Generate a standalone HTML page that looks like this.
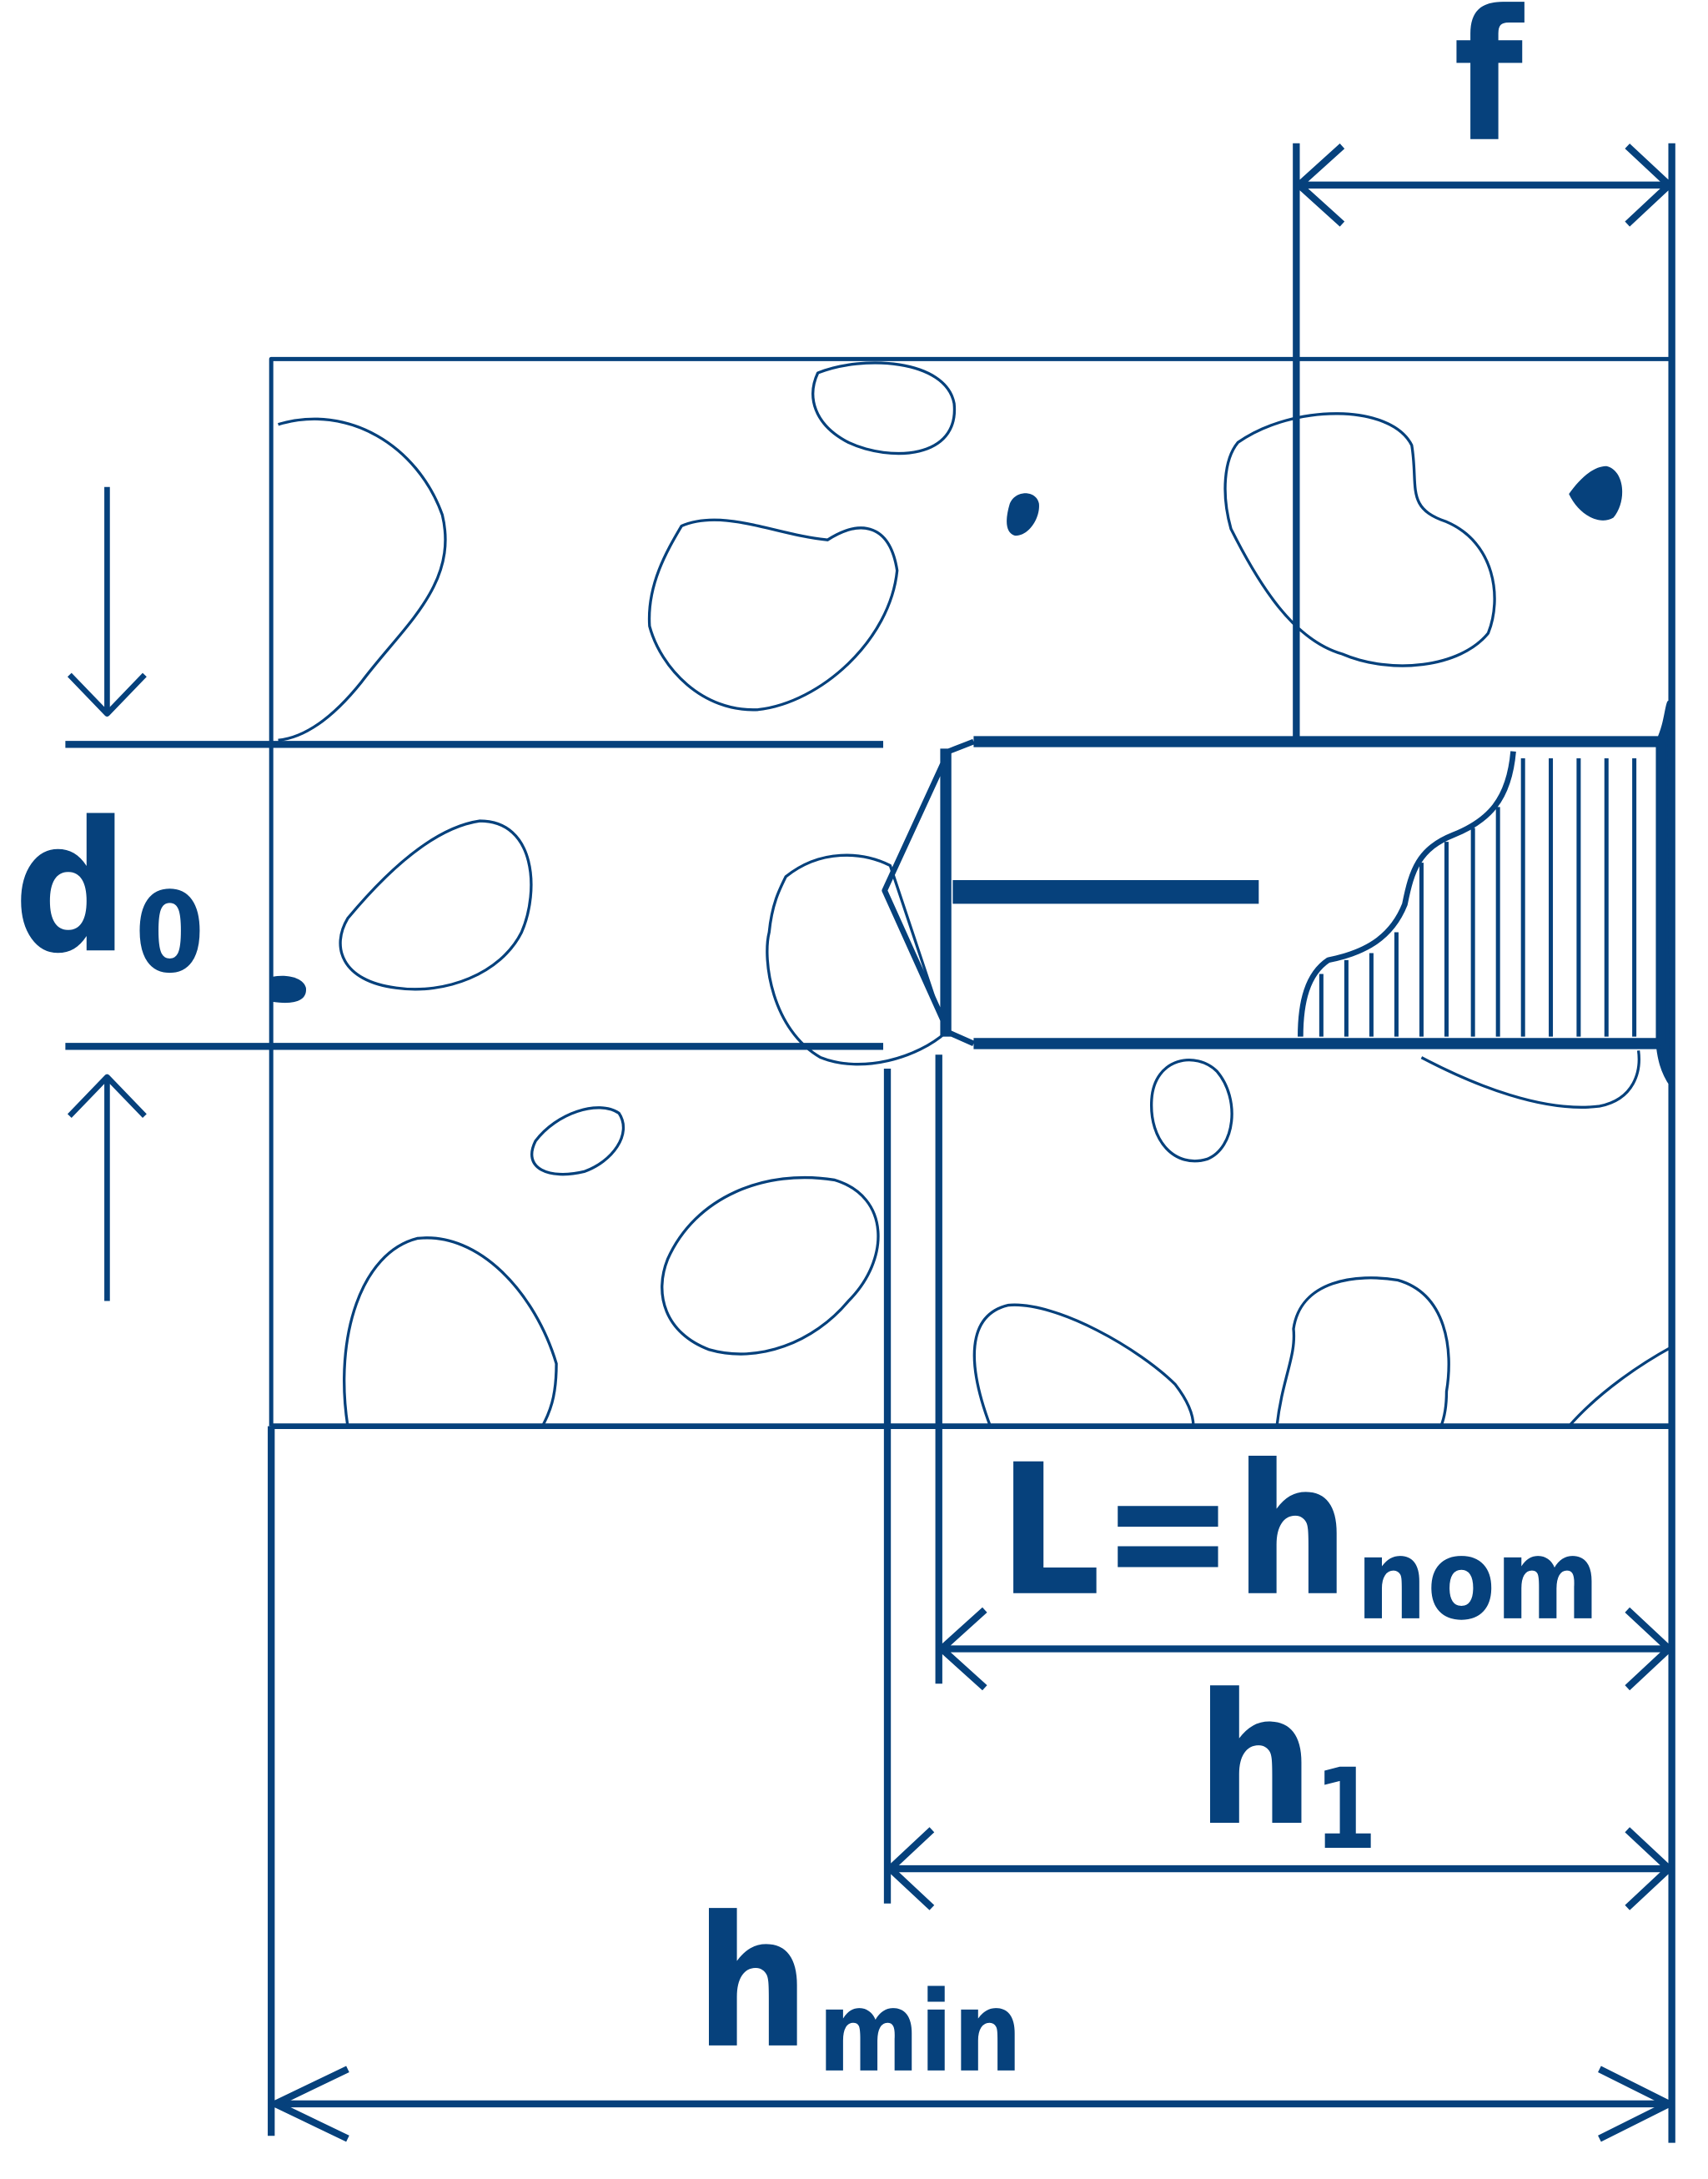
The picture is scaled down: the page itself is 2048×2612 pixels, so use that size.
<!DOCTYPE html>
<html><head><meta charset="utf-8"><style>html,body{margin:0;padding:0;background:#fff}svg{display:block}</style></head>
<body>
<svg width="2048" height="2612" viewBox="0 0 1228 1566" preserveAspectRatio="none" xmlns="http://www.w3.org/2000/svg">
<g fill="none" stroke="#06417c" stroke-linecap="butt" stroke-linejoin="round">
<path d="M195 535 V258 H1202" stroke-width="3"/>
<line x1="195" y1="535" x2="195" y2="1025" stroke-width="3"/>
<g stroke-width="2">
<path d="M200 305 C250 290 300 320 318 370 C330 420 290 450 260 490 C240 515 220 530 200 532"/>
<path d="M588 268 C620 255 680 258 686 290 C690 330 640 332 610 318 C585 305 580 285 588 268Z"/>
<path d="M490 378 C520 365 560 385 595 388 C620 372 640 378 645 410 C640 460 590 505 545 510 C505 512 475 480 467 450 C465 420 480 395 490 378Z"/>
<path d="M890 318 C930 290 1000 290 1015 320 C1020 350 1010 365 1040 375 C1075 390 1080 430 1070 455 C1050 480 1000 485 965 470 C930 460 905 420 885 380 C878 355 880 330 890 318Z"/>
<path d="M250 660 C275 630 310 595 345 590 C385 590 388 640 375 670 C360 700 320 715 285 710 C245 705 238 680 250 660Z"/>
<path d="M565 630 C590 610 620 612 640 622 L680 742 C660 760 620 772 590 760 C555 740 548 690 553 670 C555 650 560 640 565 630Z"/>
<path d="M385 820 C400 800 430 790 445 800 C455 815 440 835 420 842 C395 848 375 840 385 820Z"/>
<path d="M480 905 C500 860 550 840 600 848 C640 860 640 905 610 935 C585 965 545 980 510 970 C478 958 470 930 480 905Z"/>
<path d="M250 1025 C240 960 260 900 300 890 C345 885 385 930 400 980 C400 1005 395 1015 390 1025"/>
<path d="M828 790 C830 760 860 755 875 770 C892 790 888 825 868 833 C845 840 826 820 828 790Z"/>
<path d="M1022 760 C1060 780 1110 800 1150 795 C1175 790 1180 770 1178 755"/>
<path d="M712 1025 C695 980 695 945 725 938 C760 935 820 970 845 995 C855 1008 858 1018 858 1025"/>
<path d="M918 1025 C922 990 932 975 930 955 C935 920 975 915 1005 920 C1040 930 1045 970 1040 1000 C1040 1012 1038 1020 1036 1025"/>
<path d="M1128 1025 C1150 1000 1180 980 1202 968"/>
</g>
<line x1="47" y1="535" x2="635" y2="535" stroke-width="5"/>
<line x1="47" y1="752" x2="635" y2="752" stroke-width="5"/>
<line x1="77" y1="350" x2="77" y2="512" stroke-width="4"/>
<path d="M50 485 L77 513 L104 485" stroke-width="4"/>
<line x1="77" y1="935" x2="77" y2="775" stroke-width="4"/>
<path d="M50 802 L77 774 L104 802" stroke-width="4"/>
<line x1="932" y1="103" x2="932" y2="530" stroke-width="5"/>
<line x1="1202" y1="103" x2="1202" y2="1540" stroke-width="5"/>
<line x1="932" y1="133" x2="1202" y2="133" stroke-width="5"/>
<path d="M965 105 L934 133 L965 161" stroke-width="5"/>
<path d="M1170 105 L1200 133 L1170 161" stroke-width="5"/>
<path d="M700 533 H1192 M700 750 H1192" stroke-width="8"/>
<path d="M700 533 L682 540 L636 640 L682 742 L700 750" stroke-width="4"/>
<line x1="680" y1="538" x2="680" y2="745" stroke-width="8"/>
<line x1="685" y1="641" x2="905" y2="641" stroke-width="17"/>
<path d="M1192 533 C1198 520 1198 510 1200 505 L1202 780 C1195 770 1193 760 1192 750 Z" fill="#06417c" stroke-width="3"/>
<path d="M1195 533 V750" stroke-width="6"/>
<path d="M1088 540 C1085 575 1070 590 1045 600 C1020 610 1015 625 1010 650 C1000 675 980 685 955 690 C940 700 935 720 935 745" stroke-width="4"/>
<g stroke-width="3">
<line x1="1095" y1="545" x2="1095" y2="745"/><line x1="1115" y1="545" x2="1115" y2="745"/>
<line x1="1135" y1="545" x2="1135" y2="745"/><line x1="1155" y1="545" x2="1155" y2="745"/>
<line x1="1175" y1="545" x2="1175" y2="745"/>
<line x1="1077" y1="580" x2="1077" y2="745"/><line x1="1059" y1="595" x2="1059" y2="745"/>
<line x1="1040" y1="605" x2="1040" y2="745"/><line x1="1022" y1="620" x2="1022" y2="745"/>
<line x1="1004" y1="670" x2="1004" y2="745"/><line x1="986" y1="685" x2="986" y2="745"/>
<line x1="968" y1="690" x2="968" y2="745"/><line x1="950" y1="700" x2="950" y2="745"/>
</g>
<line x1="638" y1="768" x2="638" y2="1368" stroke-width="5"/>
<line x1="675" y1="758" x2="675" y2="1210" stroke-width="5"/>
<line x1="195" y1="1025" x2="1202" y2="1025" stroke-width="4"/>
<line x1="195" y1="1025" x2="195" y2="1535" stroke-width="5"/>
<line x1="675" y1="1185" x2="1202" y2="1185" stroke-width="5"/>
<path d="M708 1157 L677 1185 L708 1213" stroke-width="5"/>
<path d="M1170 1157 L1200 1185 L1170 1213" stroke-width="5"/>
<line x1="638" y1="1343" x2="1202" y2="1343" stroke-width="5"/>
<path d="M670 1315 L640 1343 L670 1371" stroke-width="5"/>
<path d="M1170 1315 L1200 1343 L1170 1371" stroke-width="5"/>
<line x1="195" y1="1512" x2="1202" y2="1512" stroke-width="5"/>
<path d="M250 1487 L198 1512 L250 1537" stroke-width="5"/>
<path d="M1150 1487 L1200 1512 L1150 1537" stroke-width="5"/>
</g>
<g fill="#06417c">
<path d="M726 362 C730 352 745 352 747 362 C748 372 740 385 730 385 C722 383 723 372 726 362Z"/>
<path d="M1128 355 C1135 345 1145 335 1155 335 C1168 338 1170 360 1160 372 C1150 378 1135 370 1128 355Z"/>
<path d="M196 702 C205 700 218 702 220 710 C221 720 210 722 196 720Z"/>
</g>
<g fill="#06417c" font-family="DejaVu Sans, Liberation Sans, sans-serif" font-weight="bold">
<text x="10" y="683" font-size="130" textLength="82" lengthAdjust="spacingAndGlyphs">d</text>
<text x="97" y="698" font-size="80" textLength="50" lengthAdjust="spacingAndGlyphs">0</text>
<text x="1045" y="100" font-size="130" textLength="50" lengthAdjust="spacingAndGlyphs">f</text>
<text x="718" y="1145" font-size="130" textLength="252" lengthAdjust="spacingAndGlyphs">L=h</text>
<text x="975" y="1163" font-size="80" textLength="175" lengthAdjust="spacingAndGlyphs">nom</text>
<text x="860" y="1310" font-size="130" textLength="85" lengthAdjust="spacingAndGlyphs">h</text>
<text x="945" y="1328" font-size="80" textLength="45" lengthAdjust="spacingAndGlyphs">1</text>
<text x="500" y="1470" font-size="130" textLength="82" lengthAdjust="spacingAndGlyphs">h</text>
<text x="588" y="1488" font-size="80" textLength="147" lengthAdjust="spacingAndGlyphs">min</text>
</g>
</svg>
</body></html>
